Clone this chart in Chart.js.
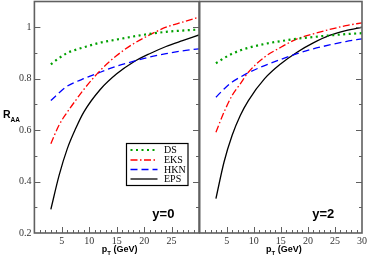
<!DOCTYPE html>
<html>
<head>
<meta charset="utf-8">
<script src="https://cdn.jsdelivr.net/npm/chart.js@4.4.1/dist/chart.umd.min.js"></script>
<style>
  html, body { margin: 0; padding: 0; background: #fff; }
  #wrap { position: relative; width: 368px; height: 258px; overflow: hidden; }
  canvas { position: absolute; top: 0; }
  #c0 { left: 0; }
  #c2 { left: 199px; }
</style>
</head>
<body>
<div id="wrap">
  <canvas id="c0" width="200" height="258"></canvas>
  <canvas id="c2" width="169" height="258"></canvas>
</div>
<script>
// -------------------------------------------------------
// DATA
// -------------------------------------------------------
const pT = [3, 4.5, 6, 7.5, 9, 12, 15, 18, 21, 24, 27, 30];

// y = 0 panel
const dsY0  = [0.856, 0.880, 0.900, 0.912, 0.922, 0.940, 0.952, 0.964, 0.974, 0.982, 0.987, 0.991];
const eksY0 = [0.547, 0.620, 0.670, 0.715, 0.758, 0.832, 0.890, 0.935, 0.970, 1.000, 1.020, 1.039];
const hknY0 = [0.715, 0.745, 0.771, 0.787, 0.800, 0.825, 0.849, 0.867, 0.884, 0.897, 0.908, 0.916];
const epsY0 = [0.292, 0.424, 0.528, 0.605, 0.670, 0.758, 0.819, 0.864, 0.897, 0.925, 0.948, 0.970];

// y = 2 panel
const dsY2  = [0.860, 0.880, 0.897, 0.910, 0.920, 0.935, 0.946, 0.955, 0.962, 0.968, 0.973, 0.977];
const eksY2 = [0.592, 0.670, 0.735, 0.780, 0.825, 0.884, 0.922, 0.955, 0.974, 0.991, 1.006, 1.017];
const hknY2 = [0.728, 0.760, 0.787, 0.806, 0.823, 0.851, 0.875, 0.897, 0.916, 0.931, 0.944, 0.955];
const epsY2 = [0.334, 0.476, 0.580, 0.657, 0.715, 0.800, 0.858, 0.903, 0.939, 0.968, 0.987, 1.000];

const seriesNames = ['DS', 'EKS', 'HKN', 'EPS'];
const xTicksLeft  = [5, 10, 15, 20, 25];
const xTicksRight = [5, 10, 15, 20, 25, 30];
const yTickValues = [0.2, 0.4, 0.6, 0.8, 1];
const yTickLabels = ['0.2', '0.4', '0.6', '0.8', '1'];

// -------------------------------------------------------
// STYLES
// -------------------------------------------------------
const lineStyles = [
    { color: '#00a000', dash: [2, 3.5], width: 2.2 },
    { color: '#ff0000', dash: [7, 2.5, 1.5, 2.5], width: 1.3 },
    { color: '#0000ff', dash: [7, 4], width: 1.3 },
    { color: '#000000', dash: [], width: 1.3 }
];
const SERIF = "'Liberation Serif', 'DejaVu Serif', serif";
const SANS = "'Liberation Sans', Arial, sans-serif";
const FRAME = '#606060';

function makeDatasets(seriesList) {
    return seriesList.map((vals, i) => ({
        label: seriesNames[i],
        data: pT.map((x, k) => ({ x: x, y: vals[k] })),
        borderColor: lineStyles[i].color,
        borderDash: lineStyles[i].dash,
        borderWidth: lineStyles[i].width,
        pointRadius: 0,
        fill: false,
        cubicInterpolationMode: 'monotone'
    }));
}

// frame, inward ticks, legend and texts
const decorPlugin = {
    id: 'decor',
    afterDraw(chart, args, opts) {
        const ctx = chart.ctx;
        const a = chart.chartArea;
        const xs = chart.scales.x, ys = chart.scales.y;
        ctx.save();

        // minor / major ticks pointing inward
        ctx.strokeStyle = FRAME;
        ctx.lineWidth = 1;
        ctx.beginPath();
        for (let v = 1; v < 30; v++) {
            const px = Math.round(xs.getPixelForValue(v)) + 0.5;
            const len = v % 5 === 0 ? 6 : 3;
            ctx.moveTo(px, a.bottom);
            ctx.lineTo(px, a.bottom - len);
        }
        for (let k = 3; k <= 10; k++) {
            const py = Math.round(ys.getPixelForValue(k / 10)) + 0.5;
            const len = k % 2 === 0 ? 6 : 3;
            if (opts.leftTicks) {
                ctx.moveTo(a.left, py);
                ctx.lineTo(a.left + len, py);
            }
            if (opts.rightTicks) {
                ctx.moveTo(a.right, py);
                ctx.lineTo(a.right - len, py);
            }
        }
        ctx.stroke();

        // frame
        ctx.lineWidth = 1.6;
        ctx.strokeRect(a.left, a.top, a.right - a.left, a.bottom - a.top);

        // panel label
        ctx.fillStyle = '#000';
        ctx.font = 'bold 13px ' + SANS;
        ctx.textAlign = 'left';
        ctx.textBaseline = 'alphabetic';
        ctx.fillText(opts.panel, xs.getPixelForValue(opts.panelX), 218);

        // x title: p_T (GeV)
        const cx = (a.left + a.right) / 2 + 3;
        ctx.font = 'bold 9px ' + SANS;
        const wP = ctx.measureText('p').width;
        const wRest = ctx.measureText(' (GeV)').width;
        ctx.font = 'bold 6px ' + SANS;
        const wT = ctx.measureText('T').width;
        let x0 = cx - (wP + wT + wRest) / 2;
        ctx.font = 'bold 9px ' + SANS;
        ctx.fillText('p', x0, 252);
        ctx.font = 'bold 6px ' + SANS;
        ctx.fillText('T', x0 + wP, 255);
        ctx.font = 'bold 9px ' + SANS;
        ctx.fillText(' (GeV)', x0 + wP + wT, 252);

        if (opts.legend) {
            // y title: R_AA
            ctx.font = 'bold 10.5px ' + SANS;
            ctx.fillText('R', 3, 118);
            ctx.font = 'bold 6.5px ' + SANS;
            ctx.fillText('AA', 10.5, 122);

            // legend box
            ctx.strokeStyle = '#000';
            ctx.lineWidth = 1.2;
            ctx.strokeRect(126.5, 143.5, 61.5, 42);
            const rows = [150, 160, 169.5, 179];
            seriesNames.forEach((name, i) => {
                const st = lineStyles[i];
                ctx.save();
                ctx.strokeStyle = st.color;
                ctx.lineWidth = st.width;
                ctx.setLineDash(st.dash);
                ctx.beginPath();
                ctx.moveTo(130.5, rows[i]);
                ctx.lineTo(157.5, rows[i]);
                ctx.stroke();
                ctx.restore();
                ctx.fillStyle = '#000';
                ctx.font = '10px ' + SERIF;
                ctx.textBaseline = 'middle';
                ctx.fillText(name, 164, rows[i] + 0.5);
            });
        }
        ctx.restore();
    }
};

function buildPanel(canvasId, seriesList, xTickList, cfg) {
    const el = document.getElementById(canvasId);
    return new Chart(el, {
        type: 'line',
        data: { datasets: makeDatasets(seriesList) },
        options: {
            responsive: false,
            animation: false,
            events: [],
            layout: {
                autoPadding: false,
                padding: { top: 1.5, left: cfg.padLeft, right: cfg.padRight, bottom: 0 }
            },
            plugins: {
                legend: { display: false },
                tooltip: { enabled: false },
                decor: cfg.decor
            },
            scales: {
                x: {
                    type: 'linear',
                    min: 0,
                    max: 30,
                    grid: { display: false, drawTicks: false },
                    border: { display: false },
                    afterBuildTicks: s => { s.ticks = xTickList.map(v => ({ value: v })); },
                    afterFit: s => {
                        s.height = 25;
                        s.paddingLeft = 0;
                        s.paddingRight = 0;
                    },
                    ticks: {
                        padding: 2,
                        color: '#333',
                        font: { family: SERIF, size: 10 },
                        maxRotation: 0,
                        autoSkip: false
                    }
                },
                y: {
                    type: 'linear',
                    min: 0.2,
                    max: 1.1,
                    display: cfg.showY,
                    grid: { display: false, drawTicks: false },
                    border: { display: false },
                    afterBuildTicks: s => { s.ticks = yTickValues.map(v => ({ value: v })); },
                    afterFit: s => {
                        s.width = cfg.yWidth;
                        s.paddingTop = 0;
                        s.paddingBottom = 0;
                    },
                    ticks: {
                        padding: 3,
                        color: '#333',
                        font: { family: SERIF, size: 10 },
                        callback: v => yTickLabels[yTickValues.indexOf(v)]
                    }
                }
            }
        },
        plugins: [decorPlugin]
    });
}

buildPanel('c0', [dsY0, eksY0, hknY0, epsY0], xTicksLeft, {
    padLeft: 0, padRight: 1, showY: true, yWidth: 34.4,
    decor: { leftTicks: true, rightTicks: true, legend: true, panel: 'y=0', panelX: 21.5 }
});

buildPanel('c2', [dsY2, eksY2, hknY2, epsY2], xTicksRight, {
    padLeft: 0.7, padRight: 6, showY: false, yWidth: 0,
    decor: { leftTicks: false, rightTicks: true, legend: false, panel: 'y=2', panelX: 20.8 }
});
</script>
</body>
</html>
